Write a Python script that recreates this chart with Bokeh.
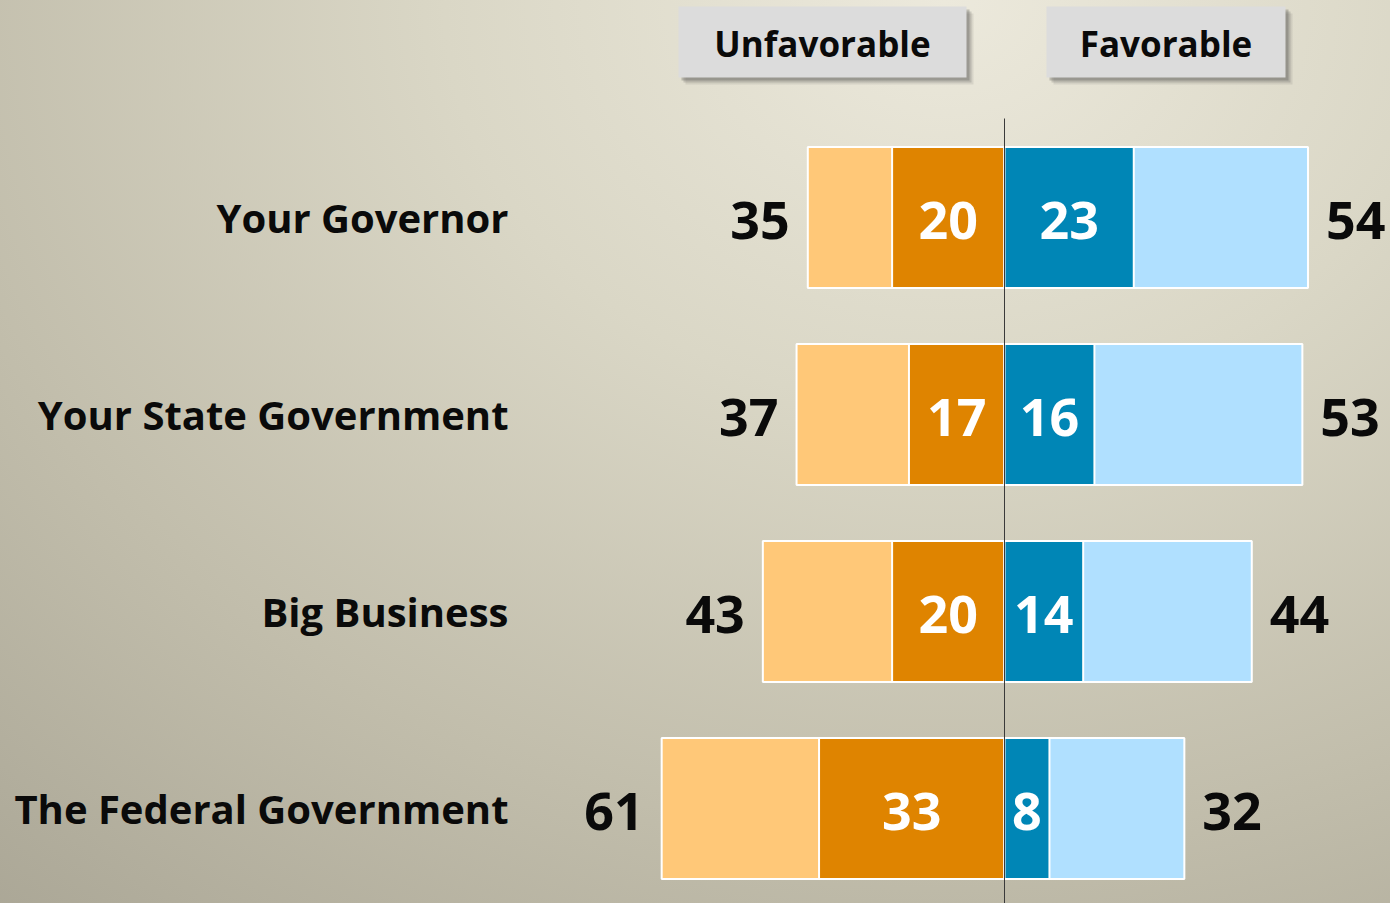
from bokeh.plotting import figure
from bokeh.models import Range1d
from bokeh.core.properties import value
from bokeh.embed import file_html
from bokeh.resources import INLINE

# ---- data ----
categories = ["Your Governor", "Your State Government", "Big Business", "The Federal Government"]
unfav_total = [35, 37, 43, 61]
unfav_strong = [20, 17, 20, 33]
fav_strong = [23, 16, 14, 8]
fav_total = [54, 53, 44, 32]
headers = ["Unfavorable", "Favorable"]

# ---- layout ----
W, H = 1390, 903
PX = 5.62      # pixels per percentage point
CX = 1004      # pixel position of zero
ROW = 197      # pixels between rows
ROW0 = 217     # pixel y of first row centre
BAR_H = 0.716
FONT = value("Open Sans")

def dx(px):
    return (px - CX) / PX

def dy(py):
    return (py - ROW0) / ROW

p = figure(width=W, height=H, output_backend="svg", toolbar_location=None,
           x_range=Range1d(dx(0), dx(W)), y_range=Range1d(dy(H), dy(0)),
           x_axis_type=None, y_axis_type=None, min_border=0,
           outline_line_color=None)
p.grid.visible = False
p.background_fill_color = None
p.border_fill_color = None
p.styles = {"background": "radial-gradient(ellipse 120% 150% at 68% 0%, #ece9dc 0%, #dad7c6 30%, #c1bdab 62%, #a19d8d 100%)"}

rows = list(range(len(categories)))

# bars
p.hbar(y=rows, left=[-v for v in unfav_total], right=0, height=BAR_H,
       fill_color="#FFC878", line_color="white", line_width=2)
p.hbar(y=rows, left=[-v for v in unfav_strong], right=0, height=BAR_H,
       fill_color="#DF8400", line_color="white", line_width=2)
p.hbar(y=rows, left=0, right=fav_total, height=BAR_H,
       fill_color="#B0E0FF", line_color="white", line_width=2)
p.hbar(y=rows, left=0, right=fav_strong, height=BAR_H,
       fill_color="#0086B6", line_color="white", line_width=2)

# centre line
p.segment(x0=0, y0=dy(118), x1=0, y1=dy(H + 10), line_color="#3a3a3a", line_width=1)

# category labels
p.text(x=dx(508), y=rows, text=categories, text_align="right", text_baseline="middle",
       text_font=FONT, text_font_style="bold", text_font_size="40px", text_color="#0a0a0a")

# total labels
p.text(x=[-v for v in unfav_total], y=rows, text=[str(v) for v in unfav_total],
       x_offset=-18, y_offset=3, text_align="right", text_baseline="middle",
       text_font=FONT, text_font_style="bold", text_font_size="52px", text_color="#0a0a0a")
p.text(x=fav_total, y=rows, text=[str(v) for v in fav_total],
       x_offset=18, y_offset=3, text_align="left", text_baseline="middle",
       text_font=FONT, text_font_style="bold", text_font_size="52px", text_color="#0a0a0a")

# strong labels (inside)
p.text(x=[-v / 2 for v in unfav_strong], y=rows, text=[str(v) for v in unfav_strong],
       y_offset=3, text_align="center", text_baseline="middle",
       text_font=FONT, text_font_style="bold", text_font_size="52px", text_color="white")
p.text(x=[v / 2 for v in fav_strong], y=rows, text=[str(v) for v in fav_strong],
       y_offset=3, text_align="center", text_baseline="middle",
       text_font=FONT, text_font_style="bold", text_font_size="52px", text_color="white")

# header boxes with soft shadow
boxes = [(678, 966), (1046, 1285)]
top, bot = 6, 77
for (l, r), h in zip(boxes, headers):
    for off, a in [(7, 0.10), (5, 0.18), (3, 0.25)]:
        p.quad(left=dx(l + off), right=dx(r + off), top=dy(top + off), bottom=dy(bot + off),
               fill_color="#3c3c3c", fill_alpha=a, line_color=None)
    p.quad(left=dx(l), right=dx(r), top=dy(top), bottom=dy(bot),
           fill_color="#dcdcdc", line_color=None)
    p.text(x=[dx((l + r) / 2)], y=[dy((top + bot) / 2 + 1)], text=[h],
           text_align="center", text_baseline="middle",
           text_font=FONT, text_font_style="bold", text_font_size="35px", text_color="#0a0a0a")

open("out.html", "w").write(file_html(p, INLINE))
